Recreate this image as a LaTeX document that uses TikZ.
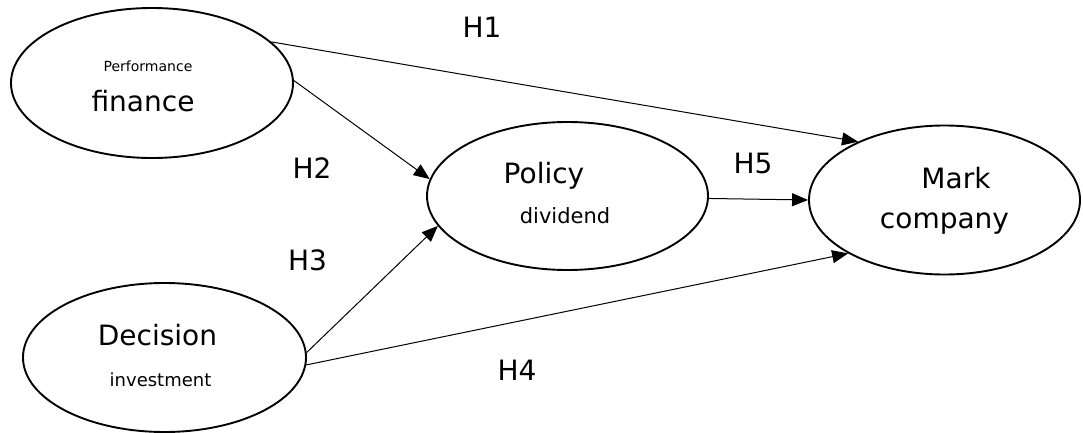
\documentclass[tikz,border=0pt]{standalone}
\usepackage{fontspec}
\setmainfont{DejaVu Sans}
\usetikzlibrary{shapes.geometric,arrows.meta}
\tikzset{
  oval/.style={draw, ellipse, line width=1.9pt, inner sep=0pt},
  lbl/.style={anchor=base, inner sep=0pt},
  big/.style={lbl, font=\fontsize{28}{30}\selectfont},
  conn/.style={line width=1pt, -{Triangle[length=16pt,width=13pt]}}
}
\begin{document}
\begin{tikzpicture}[x=1pt,y=-1pt]
\useasboundingbox (0,0) rectangle (1083,433);
% ellipses
\node[oval, minimum width=282pt, minimum height=150pt] (e1) at (152,83) {};
\node[oval, minimum width=281pt, minimum height=148pt] (e2) at (567.5,196) {};
\node[oval, minimum width=271pt, minimum height=149pt] (e3) at (944.5,200) {};
\node[oval, minimum width=283pt, minimum height=149pt] (e4) at (164.5,357.5) {};
% texts in ellipses
\node[lbl, font=\fontsize{14}{16}\selectfont] (t1a) at (148,72) {Performance};
\node[big] (t1b) at (143,111) {finance};
\node[big] (t2a) at (544,183) {Policy};
\node[lbl, font=\fontsize{21}{24}\selectfont] (t2b) at (565,223) {dividend};
\node[big] (t3a) at (956,188) {Mark};
\node[big] (t3b) at (944.5,228) {company};
\node[big] (t4a) at (157.5,345) {Decision};
\node[lbl, font=\fontsize{18}{20}\selectfont] (t4b) at (160.5,386) {investment};
% hypothesis labels
\node[big] (h1) at (482,38) {H1};
\node[big] (h2) at (312,178) {H2};
\node[big] (h3) at (307.5,270) {H3};
\node[big] (h4) at (517,380) {H4};
\node[big] (h5) at (753,173) {H5};
% connectors
\draw[conn] (e1.19) -- (e3.146);
\draw[conn] (e1.1) -- (e2.173);
\draw[conn] (e4.2) -- (e2.193);
\draw[conn] (e4.-3) -- (e3.209.5);
\draw[conn] (e2.-1) -- (e3.180);
\end{tikzpicture}
\end{document}
